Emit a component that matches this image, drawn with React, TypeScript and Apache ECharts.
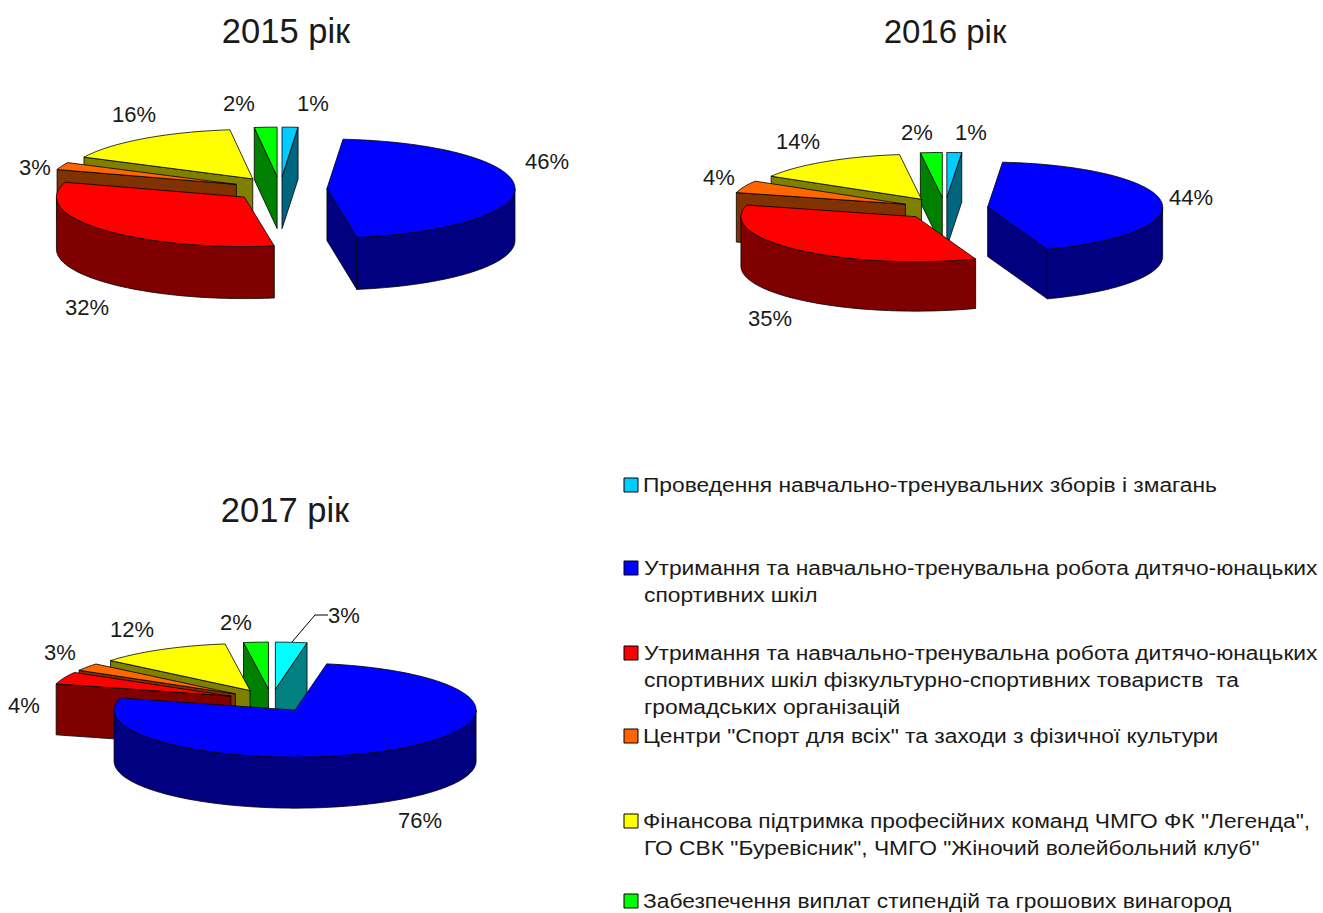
import React, { useEffect, useRef } from "react";
import * as echarts from "echarts";

// Order: cyan, blue, red, orange, yellow, green (clockwise from 12 o'clock).
const values2015 = [1.36, 46.1, 32.4, 2.4, 15.8, 1.94];
const values2016 = [1.36, 43.1, 34.7, 4.4, 14.44, 2.0];
const values2017 = [2.8, 76.4, 4.2, 2.6, 11.8, 2.2];

const labels2015 = ["1%", "46%", "32%", "3%", "16%", "2%"];
const labels2016 = ["1%", "44%", "35%", "4%", "14%", "2%"];
const labels2017 = ["3%", "76%", "4%", "3%", "12%", "2%"];

const titles = ["2015 рік", "2016 рік", "2017 рік"];

const legendItems = [
  ["Проведення навчально-тренувальних зборів і змагань"],
  ["Утримання та навчально-тренувальна робота дитячо-юнацьких", "спортивних шкіл"],
  [
    "Утримання та навчально-тренувальна робота дитячо-юнацьких",
    "спортивних шкіл фізкультурно-спортивних товариств  та",
    "громадських організацій",
  ],
  ['Центри "Спорт для всіх" та заходи з фізичної культури'],
  ['Фінансова підтримка професійних команд ЧМГО ФК "Легенда",', 'ГО СВК "Буревісник", ЧМГО "Жіночий волейбольний клуб"'],
  ["Забезпечення виплат стипендій та грошових винагород"],
];

const topColors = ["#00CCFF", "#0000FF", "#FF0000", "#FF6600", "#FFFF00", "#00FF00"];
const wallColors = ["#006680", "#000080", "#800000", "#803300", "#808000", "#008000"];

// Back-to-front painting order of the slices.
const drawOrder = [0, 5, 4, 3, 2, 1];

const pies = [
  {
    name: titles[0],
    values: values2015,
    labels: labels2015,
    cx: 280, cy: 189, rx: 188, ry: 49.5, depth: 52, explode: 47,
    title: { x: 286, y: 31, size: 34.5 },
    labelPos: [[313, 103], [547, 161], [87, 307], [35, 167], [134, 114], [239, 103]],
    top: topColors, wall: wallColors,
  },
  {
    name: titles[1],
    values: values2016,
    labels: labels2016,
    cx: 945, cy: 208.5, rx: 175, ry: 45, depth: 49.5, explode: 43,
    title: { x: 945, y: 31, size: 33 },
    labelPos: [[971, 132], [1191, 197], [770, 318], [719, 177], [798, 141], [917, 132]],
    top: topColors, wall: wallColors,
  },
  {
    name: titles[2],
    values: values2017,
    labels: labels2017,
    cx: 271.5, cy: 700.5, rx: 181, ry: 47, depth: 51, explode: 44,
    title: { x: 285, y: 510, size: 34.5 },
    labelPos: [[344, 615], [420, 820], [24, 705], [60, 652], [132, 629], [236, 622]],
    top: ["#00FFFF", ...topColors.slice(1)],
    wall: ["#008080", ...wallColors.slice(1)],
  },
];

const legendLayout = [
  { y: 485, x: 643 },
  { y: 568, x: 644 },
  { y: 653, x: 644 },
  { y: 736, x: 643 },
  { y: 821, x: 643 },
  { y: 901, x: 643 },
];

const LINE_H = 27;
const TEXT = "#1a1a1a";
const FONT = "Liberation Sans, Arial, sans-serif";
const EDGE = { stroke: "#000", lineWidth: 0.8 };
const rad = (d: number) => (d * Math.PI) / 180;

function sliceRows(values: number[]) {
  const total = values.reduce((a, b) => a + b, 0);
  let acc = 0;
  const spans = values.map((v) => {
    const a0 = (acc / total) * 360;
    acc += v;
    return [a0, (acc / total) * 360];
  });
  return drawOrder.map((i) => [spans[i][0], spans[i][1], i]);
}

function makeRenderItem(pie: (typeof pies)[number]) {
  return (_params: any, api: any) => {
    const a0 = api.value(0);
    const a1 = api.value(1);
    const idx = api.value(2);
    const mid = (a0 + a1) / 2;
    const k = pie.ry / pie.rx;
    const ax = pie.cx + pie.explode * Math.sin(rad(mid));
    const ay = pie.cy - pie.explode * k * Math.cos(rad(mid));
    const rim = (a: number) => [ax + pie.rx * Math.sin(rad(a)), ay - pie.ry * Math.cos(rad(a))];
    const down = (p: number[]) => [p[0], p[1] + pie.depth];
    const arc = (from: number, to: number) => {
      const n = Math.max(2, Math.ceil(to - from));
      const pts: number[][] = [];
      for (let j = 0; j <= n; j++) pts.push(rim(from + ((to - from) * j) / n));
      return pts;
    };
    const wallStyle = { fill: pie.wall[idx], ...EDGE };
    const children: any[] = [];
    const radial = (a: number) => {
      const r = rim(a);
      children.push({
        type: "polygon",
        shape: { points: [[ax, ay], r, down(r), [ax, ay + pie.depth]] },
        style: wallStyle,
      });
    };
    if (Math.sin(rad(a0)) < 0) radial(a0);
    if (Math.sin(rad(a1)) > 0) radial(a1);
    const from = Math.max(a0, 90);
    const to = Math.min(a1, 270);
    if (to > from) {
      const front = arc(from, to);
      children.push({
        type: "polygon",
        shape: { points: [...front, ...front.map(down).reverse()] },
        style: wallStyle,
      });
    }
    children.push({
      type: "polygon",
      shape: { points: [[ax, ay], ...arc(a0, a1)] },
      style: { fill: pie.top[idx], ...EDGE },
    });
    return { type: "group", children };
  };
}

function textEl(text: string, x: number, y: number, size: number, align: string, scaleX = 1) {
  return {
    type: "text",
    x,
    y,
    scaleX,
    silent: true,
    style: {
      text,
      fill: TEXT,
      font: `${size}px ${FONT}`,
      textAlign: align,
      textVerticalAlign: "middle",
      align,
      verticalAlign: "middle",
    },
  };
}

function buildGraphics() {
  const els: any[] = [];
  pies.forEach((pie) => {
    els.push(textEl(pie.name, pie.title.x, pie.title.y, pie.title.size, "center"));
    pie.labels.forEach((l, i) => {
      els.push(textEl(l, pie.labelPos[i][0], pie.labelPos[i][1], 22, "center"));
    });
  });
  els.push({
    type: "polyline",
    silent: true,
    shape: { points: [[292, 642], [315, 615], [328, 615]] },
    style: { stroke: "#000", lineWidth: 1, fill: "none" },
  });
  legendItems.forEach((lines, i) => {
    const { x, y } = legendLayout[i];
    els.push({
      type: "rect",
      silent: true,
      shape: { x: 624, y: y - 7, width: 14, height: 14 },
      style: { fill: pies[0].top[i], stroke: "#000", lineWidth: 1 },
    });
    lines.forEach((line, j) => {
      els.push(textEl(line, j === 0 ? x : 644, y + j * LINE_H, 21, "left", 1.085));
    });
  });
  return els;
}

export default function App() {
  const ref = useRef<HTMLDivElement>(null);
  useEffect(() => {
    document.body.style.margin = "0";
    const chart = echarts.init(ref.current!, undefined, { renderer: "svg" });
    chart.setOption({
      animation: false,
      backgroundColor: "#fff",
      series: pies.map((pie) => ({
        type: "custom",
        name: pie.name,
        coordinateSystem: "none",
        silent: true,
        data: sliceRows(pie.values),
        renderItem: makeRenderItem(pie),
      })),
      graphic: { elements: buildGraphics() },
    });
    return () => chart.dispose();
  }, []);
  return <div ref={ref} style={{ width: 1323, height: 913, overflow: "hidden" }} />;
}
